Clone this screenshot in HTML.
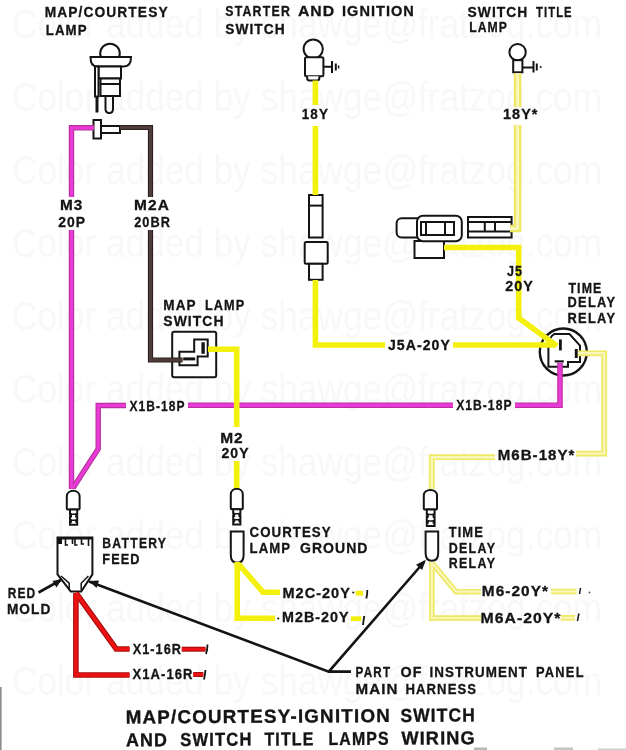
<!DOCTYPE html>
<html><head><meta charset="utf-8"><style>
html,body{margin:0;padding:0;background:#fff;width:626px;height:750px;overflow:hidden}
svg{display:block;filter:blur(0.3px)}
</style></head><body>
<svg width="626" height="750" viewBox="0 0 626 750">
<rect width="626" height="750" fill="#fff"/>
<g fill="#f8f8f8" font-family="Liberation Sans, sans-serif"><text transform="translate(12,37.5) scale(1,1.3)" x="0" y="0" font-size="31" textLength="590" lengthAdjust="spacingAndGlyphs">Color added by shawge@fratzog.com</text>
<text transform="translate(12,110.5) scale(1,1.3)" x="0" y="0" font-size="31" textLength="590" lengthAdjust="spacingAndGlyphs">Color added by shawge@fratzog.com</text>
<text transform="translate(12,183.5) scale(1,1.3)" x="0" y="0" font-size="31" textLength="590" lengthAdjust="spacingAndGlyphs">Color added by shawge@fratzog.com</text>
<text transform="translate(12,256.5) scale(1,1.3)" x="0" y="0" font-size="31" textLength="590" lengthAdjust="spacingAndGlyphs">Color added by shawge@fratzog.com</text>
<text transform="translate(12,329.5) scale(1,1.3)" x="0" y="0" font-size="31" textLength="590" lengthAdjust="spacingAndGlyphs">Color added by shawge@fratzog.com</text>
<text transform="translate(12,402.5) scale(1,1.3)" x="0" y="0" font-size="31" textLength="590" lengthAdjust="spacingAndGlyphs">Color added by shawge@fratzog.com</text>
<text transform="translate(12,475.5) scale(1,1.3)" x="0" y="0" font-size="31" textLength="590" lengthAdjust="spacingAndGlyphs">Color added by shawge@fratzog.com</text>
<text transform="translate(12,548.5) scale(1,1.3)" x="0" y="0" font-size="31" textLength="590" lengthAdjust="spacingAndGlyphs">Color added by shawge@fratzog.com</text>
<text transform="translate(12,621.5) scale(1,1.3)" x="0" y="0" font-size="31" textLength="590" lengthAdjust="spacingAndGlyphs">Color added by shawge@fratzog.com</text>
<text transform="translate(12,694.5) scale(1,1.3)" x="0" y="0" font-size="31" textLength="590" lengthAdjust="spacingAndGlyphs">Color added by shawge@fratzog.com</text></g><circle cx="110" cy="53.5" r="9.8" fill="#fff" stroke="#141414" stroke-width="2"/>
<path d="M90.5,57 H131 Q131,66.5 124,66.5 H97 Q90.5,66.5 90.5,57 Z" fill="#fff" stroke="#141414" stroke-width="2"/>
<rect x="98.5" y="66.5" width="22.5" height="12" fill="#fff" stroke="#141414" stroke-width="2"/>
<rect x="100.5" y="78.5" width="19.5" height="5.5" fill="#fff" stroke="#141414" stroke-width="2"/>
<rect x="100.5" y="84" width="19.5" height="12" fill="#fff" stroke="#141414" stroke-width="2"/>
<rect x="95" y="66.5" width="3.5" height="30" fill="#fff" stroke="#141414" stroke-width="2"/>
<path d="M97,96 V112.5" stroke="#141414" stroke-width="3" fill="none"/>
<path d="M105.5,96 V109 Q105.5,113 109.3,113 Q113,113 113,109 V96" fill="none" stroke="#141414" stroke-width="2"/>
<rect x="101" y="126" width="19" height="7" fill="#fff" stroke="#141414" stroke-width="2"/>
<rect x="93.5" y="120" width="7.5" height="18.5" fill="#fff" stroke="#141414" stroke-width="2"/>
<circle cx="313.2" cy="49" r="9.6" fill="#fff" stroke="#141414" stroke-width="2"/>
<rect x="305" y="57.3" width="18.4" height="19" rx="1.5" fill="#fff" stroke="#141414" stroke-width="2"/>
<path d="M307.2,76.3 V78.5 Q307.2,80.5 309.5,80.5 H317 Q319.3,80.5 319.3,78.5 V76.3" fill="#fff" stroke="#141414" stroke-width="2"/>
<path d="M323.4,66.8 H332 M332,61 V73 M335.8,63.5 V70.5" fill="none" stroke="#141414" stroke-width="2"/>
<path d="M338.6,65.5 V68.5" fill="none" stroke="#141414" stroke-width="1.5"/>
<circle cx="517.6" cy="52.2" r="8.2" fill="#fff" stroke="#141414" stroke-width="2"/>
<rect x="513.2" y="60.2" width="9.2" height="12.1" fill="#fff" stroke="#141414" stroke-width="2"/>
<path d="M522.4,67.6 H533.5 M533.5,61 V72.5 M536.8,63.5 V70.5" fill="none" stroke="#141414" stroke-width="2"/>
<circle cx="540.6" cy="67" r="1" fill="#141414"/>
<rect x="309" y="195" width="13.6" height="42.5" fill="#fff" stroke="#141414" stroke-width="2"/>
<path d="M309,205.6 H322.6" fill="none" stroke="#141414" stroke-width="2"/>
<rect x="304.7" y="242" width="23" height="21.8" rx="1.5" fill="#fff" stroke="#141414" stroke-width="2"/>
<rect x="309" y="263.8" width="13.6" height="16" fill="#fff" stroke="#141414" stroke-width="2"/>
<rect x="414.5" y="241" width="29.5" height="17" fill="#fff" stroke="#141414" stroke-width="2"/>
<rect x="396.6" y="218.3" width="26" height="19.2" rx="5" fill="#fff" stroke="#141414" stroke-width="2"/>
<rect x="417" y="215.8" width="44.8" height="25.5" rx="6" fill="#fff" stroke="#141414" stroke-width="2"/>
<rect x="421" y="222" width="33" height="13" fill="#fff" stroke="#141414" stroke-width="2"/>
<path d="M426,222 V235 M445,222 V235" fill="none" stroke="#141414" stroke-width="2"/>
<rect x="468" y="217" width="43.6" height="20.5" fill="#fff" stroke="#141414" stroke-width="2"/>
<path d="M468,222 H511.6 M468,231.5 H511.6 M484.8,222 V231.5 M495,222 V231.5" fill="none" stroke="#141414" stroke-width="2"/>
<rect x="172.2" y="331.7" width="44" height="45.6" rx="2" fill="#fff" stroke="#141414" stroke-width="2"/>
<path d="M179.4,351.8 H194.2 V339.4 H207.7 V356.6 H197.6 V365.3 H179.4 Z" fill="#fff" stroke="#141414" stroke-width="2"/>
<rect x="201.4" y="342.3" width="3.4" height="11.5" fill="#141414"/>
<rect x="183.2" y="357.4" width="12" height="3" fill="#141414"/>
<circle cx="563.3" cy="352" r="23.5" fill="#fff" stroke="#141414" stroke-width="2.4"/>
<path d="M554.2,334.1 H569.5 L580,345.6 V361.9 H568 V366.7 H548.4 V347.5 Q548.4,337 554.2,334.1 Z" fill="#fff" stroke="#141414" stroke-width="2"/>
<rect x="559" y="339.4" width="2.8" height="11" fill="#141414"/>
<rect x="574.8" y="349" width="2.9" height="9" fill="#141414"/>
<rect x="554.7" y="360.3" width="9.1" height="2.2" fill="#141414"/>
<path d="M66.8,508.6 V496.4 C66.8,488.9 79.6,488.9 79.6,496.4 V508.6 Q79.6,509.6 77.6,509.6 H68.8 Q66.8,509.6 66.8,508.6 Z" fill="#fff" stroke="#141414" stroke-width="2"/>
<path d="M70,509.6 H77.2 V514.16 H76.2 V516.4399999999999 H77.2 V520.24 H76.2 V521.76 H77.2 V524.8 H70 V521.76 H71 V520.24 H70 V516.4399999999999 H71 V514.16 H70 Z" fill="#fff" stroke="#141414" stroke-width="2"/>
<path d="M70,514.16 H77.2 M70,520.24 H77.2" fill="none" stroke="#141414" stroke-width="1.5"/>
<path d="M230.8,508.2 V494.4 C230.8,486.9 242.8,486.9 242.8,494.4 V508.2 Q242.8,509.2 240.8,509.2 H232.8 Q230.8,509.2 230.8,508.2 Z" fill="#fff" stroke="#141414" stroke-width="2"/>
<path d="M233.2,509.2 H240.4 V513.76 H239.4 V516.04 H240.4 V519.84 H239.4 V521.36 H240.4 V524.4 H233.2 V521.36 H234.2 V519.84 H233.2 V516.04 H234.2 V513.76 H233.2 Z" fill="#fff" stroke="#141414" stroke-width="2"/>
<path d="M233.2,513.76 H240.4 M233.2,519.84 H240.4" fill="none" stroke="#141414" stroke-width="1.5"/>
<path d="M423.8,508.4 V495.6 C423.8,488.1 437,488.1 437,495.6 V508.4 Q437,509.4 435,509.4 H425.8 Q423.8,509.4 423.8,508.4 Z" fill="#fff" stroke="#141414" stroke-width="2"/>
<path d="M426.8,509.4 H434.6 V514.38 H433.6 V516.87 H434.6 V521.02 H433.6 V522.68 H434.6 V526 H426.8 V522.68 H427.8 V521.02 H426.8 V516.87 H427.8 V514.38 H426.8 Z" fill="#fff" stroke="#141414" stroke-width="2"/>
<path d="M426.8,514.38 H434.6 M426.8,521.02 H434.6" fill="none" stroke="#141414" stroke-width="1.5"/>
<path d="M230.8,531.6 H243.6 V555 Q243.6,562.8 237.2,562.8 Q230.8,562.8 230.8,555 Z" fill="#fff" stroke="#141414" stroke-width="2"/>
<path d="M425.6,531.6 H438.2 V553 Q438.2,560.8 431.9,560.8 Q425.6,560.8 425.6,553 Z" fill="#fff" stroke="#141414" stroke-width="2"/>
<path d="M57.5,537.6 H92.4 V574.4 L81.2,591.5 H70.8 L57.5,574.4 Z" fill="#fff" stroke="#141414" stroke-width="2"/>
<path d="M57.5,538.3 H92.4" stroke="#141414" stroke-width="2.6" fill="none"/>
<rect x="58" y="538" width="4" height="6" fill="#141414"/>
<path d="M65.5,539 V545 H68 M72.5,539 V544 M75,539 V545 H77.5 M81.5,539 V544 H84 M88.5,539 V546" fill="none" stroke="#141414" stroke-width="1.6"/>
<path d="M61,576 L69.2,583.2 V590 M88.4,576 L81.2,583.2 V590" fill="none" stroke="#141414" stroke-width="1.5"/>
<path d="M367.3,590 Q367.5,594 366.3,598.5" fill="none" stroke="#141414" stroke-width="1.8"/>
<path d="M364.3,616 Q363.5,620 363,625" fill="none" stroke="#141414" stroke-width="1.8"/>
<path d="M207.5,644.5 Q207.5,649.5 206,654" fill="none" stroke="#141414" stroke-width="1.8"/>
<path d="M205.5,670 Q205,675 204,679.5" fill="none" stroke="#141414" stroke-width="1.8"/>
<path d="M580.5,588 Q580,591 579.5,594" fill="none" stroke="#141414" stroke-width="1.5"/>
<path d="M579,613.5 Q578,617.5 577.5,621" fill="none" stroke="#141414" stroke-width="1.5"/><path d="M71.5,489 V230" fill="none" stroke="#b8309e" stroke-width="5.4" stroke-linejoin="miter" stroke-linecap="butt"/>
<path d="M71.5,197 V127.8 H94" fill="none" stroke="#b8309e" stroke-width="5.4" stroke-linejoin="miter" stroke-linecap="butt"/>
<path d="M73,488 L98.2,449 V405.5 H126" fill="none" stroke="#b8309e" stroke-width="5.4" stroke-linejoin="miter" stroke-linecap="butt"/>
<path d="M188,405.2 H453" fill="none" stroke="#b8309e" stroke-width="5.6" stroke-linejoin="miter" stroke-linecap="butt"/>
<path d="M515,405.2 H560 V363" fill="none" stroke="#b8309e" stroke-width="5.6" stroke-linejoin="miter" stroke-linecap="butt"/>
<path d="M120,127.5 H150.5 V197" fill="none" stroke="#2e1f1d" stroke-width="5.2" stroke-linejoin="miter" stroke-linecap="butt"/>
<path d="M150.5,230 V360 H182.5" fill="none" stroke="#2e1f1d" stroke-width="5.2" stroke-linejoin="miter" stroke-linecap="butt"/>
<path d="M75.9,593 V675 H129.5" fill="none" stroke="#a80c0c" stroke-width="5.6" stroke-linejoin="miter" stroke-linecap="butt"/>
<path d="M76,593 L116.2,649 H129.5" fill="none" stroke="#a80c0c" stroke-width="5.6" stroke-linejoin="miter" stroke-linecap="butt"/>
<path d="M181.8,649.2 H205.5" fill="none" stroke="#a80c0c" stroke-width="5" stroke-linejoin="miter" stroke-linecap="butt"/>
<path d="M193.3,674.5 H203.3" fill="none" stroke="#a80c0c" stroke-width="5" stroke-linejoin="miter" stroke-linecap="butt"/>
<path d="M71.5,489 V230" fill="none" stroke="#e83ad6" stroke-width="3.20" stroke-linejoin="miter" stroke-linecap="butt"/>
<path d="M71.5,197 V127.8 H94" fill="none" stroke="#e83ad6" stroke-width="3.20" stroke-linejoin="miter" stroke-linecap="butt"/>
<path d="M73,488 L98.2,449 V405.5 H126" fill="none" stroke="#e83ad6" stroke-width="3.20" stroke-linejoin="miter" stroke-linecap="butt"/>
<path d="M188,405.2 H453" fill="none" stroke="#e83ad6" stroke-width="3.40" stroke-linejoin="miter" stroke-linecap="butt"/>
<path d="M515,405.2 H560 V363" fill="none" stroke="#e83ad6" stroke-width="3.40" stroke-linejoin="miter" stroke-linecap="butt"/>
<path d="M120,127.5 H150.5 V197" fill="none" stroke="#4c3c3a" stroke-width="3.00" stroke-linejoin="miter" stroke-linecap="butt"/>
<path d="M150.5,230 V360 H182.5" fill="none" stroke="#4c3c3a" stroke-width="3.00" stroke-linejoin="miter" stroke-linecap="butt"/>
<path d="M75.9,593 V675 H129.5" fill="none" stroke="#ec1212" stroke-width="3.40" stroke-linejoin="miter" stroke-linecap="butt"/>
<path d="M76,593 L116.2,649 H129.5" fill="none" stroke="#ec1212" stroke-width="3.40" stroke-linejoin="miter" stroke-linecap="butt"/>
<path d="M181.8,649.2 H205.5" fill="none" stroke="#ec1212" stroke-width="2.80" stroke-linejoin="miter" stroke-linecap="butt"/>
<path d="M193.3,674.5 H203.3" fill="none" stroke="#ec1212" stroke-width="2.80" stroke-linejoin="miter" stroke-linecap="butt"/><path d="M315.4,80.5 V105" fill="none" stroke="#f3f00e" stroke-width="5.6" stroke-linejoin="miter"/>
<path d="M315.4,126 V195" fill="none" stroke="#f3f00e" stroke-width="5.6" stroke-linejoin="miter"/>
<path d="M315.4,280 V345 H385" fill="none" stroke="#f3f00e" stroke-width="5.6" stroke-linejoin="miter"/>
<path d="M453,345 H555" fill="none" stroke="#f3f00e" stroke-width="5.6" stroke-linejoin="miter"/>
<path d="M444,247.5 H518.7 V318 L557,346" fill="none" stroke="#f3f00e" stroke-width="5.6" stroke-linejoin="miter"/>
<path d="M208,349.2 H236.7 V427" fill="none" stroke="#f3f00e" stroke-width="5.6" stroke-linejoin="miter"/>
<path d="M236.7,461 V488" fill="none" stroke="#f3f00e" stroke-width="5.6" stroke-linejoin="miter"/>
<path d="M237.2,562 V618.3 H275" fill="none" stroke="#f3f00e" stroke-width="5.6" stroke-linejoin="miter"/>
<path d="M238.5,564 L263,592.2 H280" fill="none" stroke="#f3f00e" stroke-width="5.6" stroke-linejoin="miter"/>
<path d="M355.7,593.2 H363" fill="none" stroke="#f3f00e" stroke-width="4.8" stroke-linejoin="miter"/>
<path d="M350.9,618.7 H361.3" fill="none" stroke="#f3f00e" stroke-width="4.8" stroke-linejoin="miter"/><path d="M517.6,73 V107" fill="none" stroke="#efe862" stroke-width="7.5" stroke-linejoin="miter"/>
<path d="M517.6,125 V228.5 H510" fill="none" stroke="#efe862" stroke-width="7.5" stroke-linejoin="miter"/>
<path d="M578,353.3 H604.2 V453.6 H576" fill="none" stroke="#efe862" stroke-width="5.8" stroke-linejoin="miter"/>
<path d="M495,457.2 H431.8 V489" fill="none" stroke="#efe862" stroke-width="5.8" stroke-linejoin="miter"/>
<path d="M431.8,562 V618 H481" fill="none" stroke="#efe862" stroke-width="5.6" stroke-linejoin="miter"/>
<path d="M432.5,563.5 L456,591.7 H481" fill="none" stroke="#efe862" stroke-width="5.6" stroke-linejoin="miter"/>
<path d="M551,591.5 H576.6" fill="none" stroke="#efe862" stroke-width="5.6" stroke-linejoin="miter"/>
<path d="M560.8,617.8 H575" fill="none" stroke="#efe862" stroke-width="5.6" stroke-linejoin="miter"/>
<path d="M517.6,73 V107" fill="none" stroke="#f9f6bc" stroke-width="3" stroke-linejoin="miter"/>
<path d="M517.6,125 V228.5 H510" fill="none" stroke="#f9f6bc" stroke-width="3" stroke-linejoin="miter"/>
<path d="M578,353.3 H604.2 V453.6 H576" fill="none" stroke="#f9f6bc" stroke-width="2.4" stroke-linejoin="miter"/>
<path d="M495,457.2 H431.8 V489" fill="none" stroke="#f9f6bc" stroke-width="2.4" stroke-linejoin="miter"/>
<path d="M431.8,562 V618 H481" fill="none" stroke="#f9f6bc" stroke-width="2.2" stroke-linejoin="miter"/>
<path d="M432.5,563.5 L456,591.7 H481" fill="none" stroke="#f9f6bc" stroke-width="2.2" stroke-linejoin="miter"/>
<path d="M551,591.5 H576.6" fill="none" stroke="#f9f6bc" stroke-width="2.2" stroke-linejoin="miter"/>
<path d="M560.8,617.8 H575" fill="none" stroke="#f9f6bc" stroke-width="2.2" stroke-linejoin="miter"/><path d="M89,581.5 L328.8,671.6 L424.5,561.5 M328.8,671.6 H351" fill="none" stroke="#141414" stroke-width="2.6"/>
<path d="M38.5,592.5 L61,580" fill="none" stroke="#141414" stroke-width="2.6"/>
<path d="M62,579 L52.5,581 L56.5,587.5 Z" fill="#141414"/>
<path d="M89,581 L99,580.5 L96.5,588 Z" fill="#141414"/>
<path d="M425.8,559.8 L422.2,570 L416,564.8 Z" fill="#141414"/><rect x="474" y="747.5" width="13" height="2.5" fill="#b8b8b8"/><rect x="554" y="747.5" width="19" height="2.5" fill="#c4c4c4"/><rect x="598" y="748.5" width="28" height="1.5" fill="#d0d0d0"/><rect x="0" y="687" width="1.6" height="63" fill="#8c8c8c"/><circle cx="278.3" cy="618.5" r="1.1" fill="#141414"/><circle cx="353.3" cy="592.5" r="1.1" fill="#141414"/><circle cx="589.5" cy="592.5" r="0.9" fill="#555"/><g fill="#141414" stroke="#141414" stroke-width="0.3" font-family="Liberation Sans, sans-serif" font-weight="bold"><text stroke-width="0.3" transform="scale(0.9032,1)" x="49.60" y="17.25" font-size="15.26" textLength="135.96" lengthAdjust="spacing">MAP/COURTESY</text>
<text stroke-width="0.3" transform="scale(0.8786,1)" x="52.13" y="34.75" font-size="15.12" textLength="46.44" lengthAdjust="spacing">LAMP</text>
<text stroke-width="0.3" transform="scale(0.8415,1)" x="267.74" y="16.05" font-size="14.68" textLength="76.65" lengthAdjust="spacing">STARTER</text>
<text stroke-width="0.3" transform="scale(1.0767,1)" x="276.68" y="16.05" font-size="14.68" textLength="33.71" lengthAdjust="spacing">AND</text>
<text stroke-width="0.3" transform="scale(0.9917,1)" x="344.85" y="16.05" font-size="14.68" textLength="72.50" lengthAdjust="spacing">IGNITION</text>
<text stroke-width="0.3" transform="scale(0.9372,1)" x="240.40" y="34.05" font-size="14.68" textLength="63.38" lengthAdjust="spacing">SWITCH</text>
<text stroke-width="0.3" transform="scale(0.9241,1)" x="505.92" y="16.75" font-size="14.97" textLength="64.71" lengthAdjust="spacing">SWITCH</text>
<text stroke-width="0.3" transform="scale(0.7530,1)" x="711.99" y="16.75" font-size="14.97" textLength="47.15" lengthAdjust="spacing">TITLE</text>
<text stroke-width="0.3" transform="scale(0.8171,1)" x="574.23" y="32.35" font-size="14.97" textLength="46.26" lengthAdjust="spacing">LAMP</text>
<text stroke-width="0.3" transform="scale(0.8825,1)" x="342.00" y="119.45" font-size="15.26" textLength="29.58" lengthAdjust="spacing">18Y</text>
<text stroke-width="0.3" transform="scale(0.9456,1)" x="531.93" y="119.45" font-size="15.26" textLength="36.48" lengthAdjust="spacing">18Y*</text>
<text stroke-width="0.3" transform="scale(1.0372,1)" x="57.75" y="210.35" font-size="14.83" textLength="21.60" lengthAdjust="spacing">M3</text>
<text stroke-width="0.3" transform="scale(0.9373,1)" x="62.20" y="226.65" font-size="14.83" textLength="28.59" lengthAdjust="spacing">20P</text>
<text stroke-width="0.3" transform="scale(1.0422,1)" x="128.67" y="210.35" font-size="14.83" textLength="33.29" lengthAdjust="spacing">M2A</text>
<text stroke-width="0.3" transform="scale(0.8597,1)" x="156.10" y="226.65" font-size="14.83" textLength="41.53" lengthAdjust="spacing">20BR</text>
<text stroke-width="0.3" transform="scale(0.8649,1)" x="586.23" y="276.35" font-size="14.54" textLength="17.34" lengthAdjust="spacing">J5</text>
<text stroke-width="0.3" transform="scale(0.9317,1)" x="542.21" y="291.35" font-size="15.41" textLength="29.73" lengthAdjust="spacing">20Y</text>
<text stroke-width="0.3" transform="scale(0.8118,1)" x="700.29" y="292.65" font-size="15.26" textLength="40.40" lengthAdjust="spacing">TIME</text>
<text stroke-width="0.3" transform="scale(0.8816,1)" x="643.70" y="307.35" font-size="14.54" textLength="53.88" lengthAdjust="spacing">DELAY</text>
<text stroke-width="0.3" transform="scale(0.8816,1)" x="643.70" y="322.55" font-size="14.54" textLength="53.88" lengthAdjust="spacing">RELAY</text>
<text stroke-width="0.3" transform="scale(0.8804,1)" x="185.48" y="309.55" font-size="15.41" textLength="36.69" lengthAdjust="spacing">MAP</text>
<text stroke-width="0.3" transform="scale(0.8262,1)" x="248.11" y="309.55" font-size="15.41" textLength="47.56" lengthAdjust="spacing">LAMP</text>
<text stroke-width="0.3" transform="scale(0.9210,1)" x="177.30" y="325.75" font-size="15.12" textLength="65.36" lengthAdjust="spacing">SWITCH</text>
<text stroke-width="0.3" transform="scale(0.9412,1)" x="412.14" y="349.75" font-size="14.97" textLength="65.77" lengthAdjust="spacing">J5A-20Y</text>
<text stroke-width="0.3" transform="scale(0.8035,1)" x="161.04" y="411.45" font-size="14.97" textLength="68.57" lengthAdjust="spacing">X1B-18P</text>
<text stroke-width="0.3" transform="scale(0.8157,1)" x="559.24" y="410.35" font-size="14.83" textLength="67.79" lengthAdjust="spacing">X1B-18P</text>
<text stroke-width="0.3" transform="scale(1.0867,1)" x="202.64" y="443.05" font-size="14.24" textLength="20.71" lengthAdjust="spacing">M2</text>
<text stroke-width="0.3" transform="scale(0.9387,1)" x="235.87" y="458.15" font-size="14.97" textLength="28.87" lengthAdjust="spacing">20Y</text>
<text stroke-width="0.3" transform="scale(1.0153,1)" x="490.20" y="460.45" font-size="14.83" textLength="75.54" lengthAdjust="spacing">M6B-18Y*</text>
<text stroke-width="0.3" transform="scale(0.8209,1)" x="124.62" y="548.45" font-size="14.83" textLength="77.60" lengthAdjust="spacing">BATTERY</text>
<text stroke-width="0.3" transform="scale(0.8327,1)" x="122.85" y="564.35" font-size="15.26" textLength="44.55" lengthAdjust="spacing">FEED</text>
<text stroke-width="0.3" transform="scale(0.8233,1)" x="9.47" y="598.25" font-size="14.54" textLength="33.16" lengthAdjust="spacing">RED</text>
<text stroke-width="0.3" transform="scale(0.9329,1)" x="7.40" y="614.05" font-size="14.68" textLength="46.52" lengthAdjust="spacing">MOLD</text>
<text stroke-width="0.3" transform="scale(0.8951,1)" x="278.84" y="537.15" font-size="14.83" textLength="90.49" lengthAdjust="spacing">COURTESY</text>
<text stroke-width="0.3" transform="scale(0.8997,1)" x="277.44" y="552.75" font-size="14.68" textLength="45.02" lengthAdjust="spacing">LAMP</text>
<text stroke-width="0.3" transform="scale(0.9558,1)" x="313.87" y="552.75" font-size="14.68" textLength="70.62" lengthAdjust="spacing">GROUND</text>
<text stroke-width="0.3" transform="scale(0.9892,1)" x="285.49" y="598.45" font-size="14.68" textLength="68.24" lengthAdjust="spacing">M2C-20Y</text>
<text stroke-width="0.3" transform="scale(0.9838,1)" x="286.65" y="622.45" font-size="14.54" textLength="67.60" lengthAdjust="spacing">M2B-20Y</text>
<text stroke-width="0.3" transform="scale(0.8565,1)" x="523.90" y="537.45" font-size="15.12" textLength="39.81" lengthAdjust="spacing">TIME</text>
<text stroke-width="0.3" transform="scale(0.8299,1)" x="540.68" y="552.65" font-size="14.97" textLength="55.79" lengthAdjust="spacing">DELAY</text>
<text stroke-width="0.3" transform="scale(0.8299,1)" x="540.68" y="568.35" font-size="14.97" textLength="55.79" lengthAdjust="spacing">RELAY</text>
<text stroke-width="0.3" transform="scale(1.0493,1)" x="459.24" y="596.25" font-size="14.68" textLength="62.99" lengthAdjust="spacing">M6-20Y*</text>
<text stroke-width="0.3" transform="scale(1.0751,1)" x="446.92" y="622.95" font-size="14.68" textLength="74.41" lengthAdjust="spacing">M6A-20Y*</text>
<text stroke-width="0.3" transform="scale(0.8372,1)" x="158.51" y="654.05" font-size="15.12" textLength="57.57" lengthAdjust="spacing">X1-16R</text>
<text stroke-width="0.3" transform="scale(0.8786,1)" x="150.92" y="679.15" font-size="14.83" textLength="68.06" lengthAdjust="spacing">X1A-16R</text>
<text stroke-width="0.3" transform="scale(0.7937,1)" x="447.79" y="677.05" font-size="14.68" textLength="43.85" lengthAdjust="spacing">PART</text>
<text stroke-width="0.3" transform="scale(0.9748,1)" x="410.96" y="677.05" font-size="14.68" textLength="21.44" lengthAdjust="spacing">OF</text>
<text stroke-width="0.3" transform="scale(0.9150,1)" x="469.52" y="677.05" font-size="14.68" textLength="106.34" lengthAdjust="spacing">INSTRUMENT</text>
<text stroke-width="0.3" transform="scale(0.8741,1)" x="613.10" y="677.05" font-size="14.68" textLength="54.46" lengthAdjust="spacing">PANEL</text>
<text stroke-width="0.3" transform="scale(1.0321,1)" x="344.52" y="694.25" font-size="14.68" textLength="40.50" lengthAdjust="spacing">MAIN</text>
<text stroke-width="0.3" transform="scale(0.8948,1)" x="453.26" y="694.25" font-size="14.68" textLength="78.67" lengthAdjust="spacing">HARNESS</text>
<text stroke-width="0.35" transform="rotate(-0.36,126.5,723.8) scale(0.9998,1)" x="125.73" y="723.62" font-size="18.82" textLength="264.16" lengthAdjust="spacing">MAP/COURTESY-IGNITION</text>
<text stroke-width="0.35" transform="rotate(-0.36,126.5,723.8) scale(0.9262,1)" x="432.33" y="723.62" font-size="18.82" textLength="80.33" lengthAdjust="spacing">SWITCH</text>
<text stroke-width="0.35" transform="rotate(-0.36,126.5,746.5) scale(0.9603,1)" x="131.10" y="746.33" font-size="18.68" textLength="42.80" lengthAdjust="spacing">AND</text>
<text stroke-width="0.35" transform="rotate(-0.36,126.5,746.5) scale(0.8905,1)" x="202.36" y="746.33" font-size="18.68" textLength="79.95" lengthAdjust="spacing">SWITCH</text>
<text stroke-width="0.35" transform="rotate(-0.36,126.5,746.5) scale(0.8582,1)" x="308.09" y="746.33" font-size="18.68" textLength="57.10" lengthAdjust="spacing">TITLE</text>
<text stroke-width="0.35" transform="rotate(-0.36,126.5,746.5) scale(0.8538,1)" x="384.73" y="746.33" font-size="18.68" textLength="70.62" lengthAdjust="spacing">LAMPS</text>
<text stroke-width="0.35" transform="rotate(-0.36,126.5,746.5) scale(0.9753,1)" x="411.56" y="746.33" font-size="18.68" textLength="75.26" lengthAdjust="spacing">WIRING</text></g>
</svg>
</body></html>
